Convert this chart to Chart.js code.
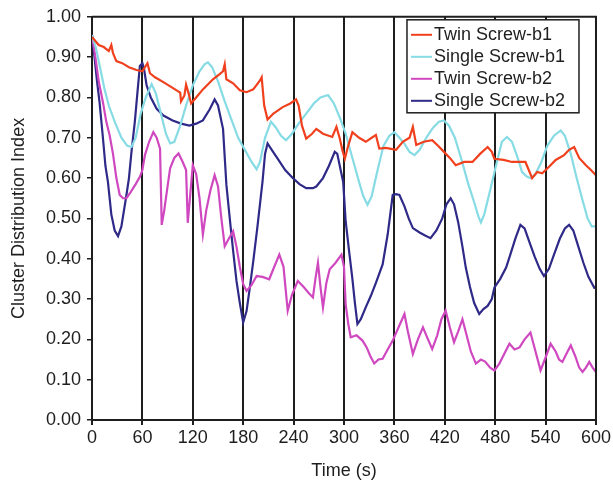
<!DOCTYPE html>
<html>
<head>
<meta charset="utf-8">
<script src="https://cdn.jsdelivr.net/npm/chart.js@4.4.1/dist/chart.umd.min.js"></script>
<style>
  html, body { margin: 0; padding: 0; background: #fff; }
  #wrap { width: 613px; height: 482px; }
</style>
</head>
<body>
<div id="wrap"><canvas id="clusterChart"></canvas></div>
<script>
// Twin Screw-b1
const twinB1Time = [0,4,8,14,20,23,25,29,36,44,53,60,66,69,75,85,95,105,106,110,112,115,118,124,132,144,152,156,158,160,168,176,184,192,200,202,205,209,216,227,236,243,246,250,255,262,267,275,286,291,295,298,301,305,310,318,326,333,338,342,350,362,370,378,382,386,395,405,412,419,426,433,443,453,462,471,476,479,490,500,508,516,524,530,536,545,552,562,568,574,580,588,594,600];
const twinB1Vals = [0.95,0.94,0.93,0.925,0.915,0.93,0.91,0.89,0.885,0.875,0.868,0.865,0.885,0.86,0.85,0.838,0.825,0.812,0.79,0.805,0.832,0.81,0.785,0.80,0.82,0.845,0.858,0.865,0.882,0.845,0.835,0.818,0.813,0.82,0.842,0.85,0.78,0.745,0.76,0.776,0.785,0.795,0.78,0.73,0.698,0.71,0.722,0.71,0.702,0.727,0.698,0.67,0.648,0.68,0.714,0.70,0.69,0.70,0.707,0.673,0.675,0.67,0.69,0.70,0.727,0.682,0.69,0.694,0.68,0.665,0.65,0.632,0.64,0.64,0.66,0.677,0.665,0.648,0.645,0.64,0.64,0.64,0.60,0.615,0.612,0.63,0.645,0.657,0.67,0.677,0.65,0.632,0.62,0.607];

// Single Screw-b1
const singleB1Time = [0,5,10,15,20,27,35,42,47,52,58,64,71,76,82,88,93,98,105,112,120,128,134,138,143,150,158,166,174,182,190,196,200,206,213,219,225,231,238,246,255,264,272,281,288,295,302,310,318,323,328,333,340,347,354,360,366,372,378,384,390,398,406,413,419,425,432,440,448,455,460,463,467,474,482,488,494,500,506,512,518,522,528,535,542,550,558,563,570,577,584,590,595,600];
const singleB1Vals = [0.955,0.92,0.87,0.82,0.78,0.74,0.70,0.68,0.677,0.70,0.76,0.80,0.833,0.81,0.76,0.71,0.686,0.69,0.73,0.78,0.83,0.865,0.882,0.887,0.875,0.84,0.79,0.745,0.70,0.67,0.64,0.622,0.64,0.70,0.74,0.725,0.705,0.694,0.71,0.735,0.76,0.785,0.80,0.806,0.785,0.75,0.71,0.65,0.59,0.555,0.534,0.555,0.62,0.68,0.705,0.714,0.70,0.685,0.665,0.657,0.67,0.70,0.725,0.74,0.743,0.73,0.70,0.645,0.585,0.54,0.505,0.49,0.51,0.57,0.64,0.69,0.702,0.69,0.655,0.615,0.603,0.60,0.61,0.64,0.68,0.705,0.718,0.705,0.66,0.60,0.545,0.50,0.48,0.48];

// Twin Screw-b2
const twinB2Time = [0,4,8,13,17,21,25,29,33,37,41,46,52,57,60,63,68,73,77,81,83,86,90,93,98,103,108,112,114,117,120,124,128,132,136,141,146,150,154,158,163,168,172,176,180,184,190,196,203,211,217,223,228,233,238,245,252,258,263,266,269,272,275,279,283,290,297,300,302,305,308,315,322,327,331,336,341,346,352,358,365,372,376,382,388,394,399,405,411,416,421,426,431,436,441,446,451,457,463,468,474,479,485,491,497,503,509,515,522,528,534,540,546,552,556,560,565,570,575,580,584,588,592,596,600];
const twinB2Vals = [0.955,0.90,0.84,0.788,0.74,0.706,0.66,0.60,0.558,0.55,0.55,0.565,0.585,0.603,0.62,0.657,0.69,0.714,0.70,0.673,0.484,0.52,0.58,0.624,0.65,0.661,0.64,0.62,0.489,0.56,0.632,0.61,0.55,0.46,0.52,0.57,0.607,0.58,0.50,0.431,0.45,0.468,0.43,0.38,0.337,0.32,0.335,0.357,0.355,0.349,0.38,0.41,0.38,0.271,0.31,0.345,0.33,0.315,0.304,0.35,0.39,0.33,0.279,0.34,0.374,0.39,0.41,0.38,0.287,0.24,0.205,0.21,0.197,0.18,0.16,0.14,0.15,0.152,0.175,0.197,0.23,0.263,0.22,0.164,0.20,0.23,0.205,0.176,0.21,0.25,0.271,0.23,0.193,0.22,0.25,0.21,0.17,0.14,0.15,0.145,0.13,0.123,0.14,0.165,0.189,0.175,0.18,0.20,0.217,0.17,0.123,0.155,0.189,0.17,0.15,0.144,0.165,0.185,0.16,0.13,0.119,0.13,0.144,0.13,0.119];

// Single Screw-b2
const singleB2Time = [0,3,6,9,13,16,19,23,27,31,35,41,44,47,51,54,57,60,62,65,70,77,85,96,106,116,124,132,140,146,150,156,160,164,168,172,176,180,184,188,192,197,203,206,209,214,222,230,239,247,255,263,267,275,282,289,292,296,299,302,306,310,313,316,320,326,332,338,346,352,358,362,366,372,377,382,390,396,403,410,417,422,427,431,436,441,445,450,455,461,466,471,476,479,486,493,498,504,510,515,521,527,533,538,544,550,557,563,568,573,579,585,591,598,600];
const singleB2Vals = [0.955,0.90,0.84,0.788,0.70,0.63,0.59,0.51,0.47,0.456,0.48,0.558,0.60,0.665,0.74,0.81,0.878,0.885,0.87,0.83,0.80,0.772,0.755,0.743,0.735,0.73,0.735,0.743,0.77,0.795,0.78,0.722,0.583,0.50,0.42,0.345,0.29,0.242,0.27,0.33,0.394,0.48,0.591,0.66,0.686,0.67,0.645,0.62,0.60,0.585,0.575,0.575,0.579,0.60,0.63,0.665,0.66,0.62,0.591,0.493,0.42,0.35,0.29,0.238,0.25,0.28,0.308,0.34,0.386,0.46,0.558,0.56,0.558,0.53,0.50,0.476,0.465,0.458,0.451,0.47,0.50,0.535,0.55,0.535,0.49,0.43,0.378,0.33,0.29,0.263,0.275,0.283,0.30,0.328,0.35,0.378,0.41,0.45,0.484,0.475,0.44,0.405,0.375,0.357,0.375,0.41,0.45,0.475,0.484,0.47,0.43,0.39,0.355,0.328,0.33];

const seriesNames = ['Twin Screw-b1', 'Single Screw-b1', 'Twin Screw-b2', 'Single Screw-b2'];
const seriesColors = ['#f0401e', '#86dbe4', '#d048c0', '#2f2a88'];
const timeTicks = [0, 60, 120, 180, 240, 300, 360, 420, 480, 540, 600];
const indexTicks = [0, 0.1, 0.2, 0.3, 0.4, 0.5, 0.6, 0.7, 0.8, 0.9, 1.0];

const FONT = '"Liberation Sans", Arial, sans-serif';
const INK = '#1e1e1e';

function pairs(times, vals) {
  return times.map((t, i) => ({ x: t, y: vals[i] }));
}

const seriesData = [
  pairs(twinB1Time, twinB1Vals),
  pairs(singleB1Time, singleB1Vals),
  pairs(twinB2Time, twinB2Vals),
  pairs(singleB2Time, singleB2Vals)
];

// top/right frame plus the boxed legend inside the plot
const framePlugin = {
  id: 'frameAndLegend',
  afterDatasetsDraw(chart) {
    const ctx = chart.ctx;
    const a = chart.chartArea;
    ctx.save();
    ctx.strokeStyle = INK;
    ctx.lineWidth = 2;
    ctx.beginPath();
    ctx.moveTo(a.left, a.top);
    ctx.lineTo(a.right, a.top);
    ctx.lineTo(a.right, a.bottom);
    ctx.stroke();

    const bx = a.right - 189, by = a.top + 3, bw = 172, bh = 93;
    ctx.fillStyle = '#fff';
    ctx.fillRect(bx, by, bw, bh);
    ctx.lineWidth = 1.5;
    ctx.strokeRect(bx, by, bw, bh);

    ctx.font = '18px ' + FONT;
    ctx.textBaseline = 'middle';
    chart.data.datasets.forEach((ds, i) => {
      const yy = by + 15 + i * 22;
      ctx.strokeStyle = ds.borderColor;
      ctx.lineWidth = 2;
      ctx.beginPath();
      ctx.moveTo(bx + 4, yy);
      ctx.lineTo(bx + 25, yy);
      ctx.stroke();
      ctx.fillStyle = INK;
      ctx.fillText(ds.label, bx + 27, yy);
    });
    ctx.restore();
  }
};

const ctx = document.getElementById('clusterChart').getContext('2d');
new Chart(ctx, {
  type: 'line',
  data: {
    datasets: seriesNames.map((name, i) => ({
      label: name,
      data: seriesData[i],
      borderColor: seriesColors[i],
      backgroundColor: seriesColors[i],
      borderWidth: 2.2,
      pointRadius: 0,
      tension: 0,
      fill: false
    }))
  },
  options: {
    responsive: true,
    maintainAspectRatio: false,
    animation: false,
    layout: { padding: { top: 14, right: 16, left: 0, bottom: 0 } },
    plugins: {
      legend: { display: false },
      tooltip: { enabled: false }
    },
    scales: {
      x: {
        type: 'linear',
        min: 0,
        max: 600,
        afterBuildTicks(scale) { scale.ticks = timeTicks.map(v => ({ value: v })); },
        afterFit(scale) { scale.height = 62; },
        ticks: { color: INK, font: { family: FONT, size: 18 }, padding: 2, maxRotation: 0 },
        grid: { color: INK, lineWidth: 2, tickLength: 5, drawTicks: true },
        border: { color: INK, width: 2 },
        title: { display: true, text: 'Time (s)', color: INK, font: { family: FONT, size: 18 }, padding: { top: 2, bottom: 0 } }
      },
      y: {
        min: 0,
        max: 1,
        afterBuildTicks(scale) { scale.ticks = indexTicks.map(v => ({ value: v })); },
        afterFit(scale) { scale.width = 92; },
        ticks: {
          color: INK,
          font: { family: FONT, size: 18 },
          padding: 6,
          callback: v => Number(v).toFixed(2)
        },
        grid: { drawOnChartArea: false, color: INK, lineWidth: 1.5, tickLength: 5 },
        border: { color: INK, width: 2 },
        title: { display: true, text: 'Cluster Distribution Index', color: INK, font: { family: FONT, size: 18 }, padding: { top: 8, bottom: 4 } }
      }
    }
  },
  plugins: [framePlugin]
});
</script>
</body>
</html>
